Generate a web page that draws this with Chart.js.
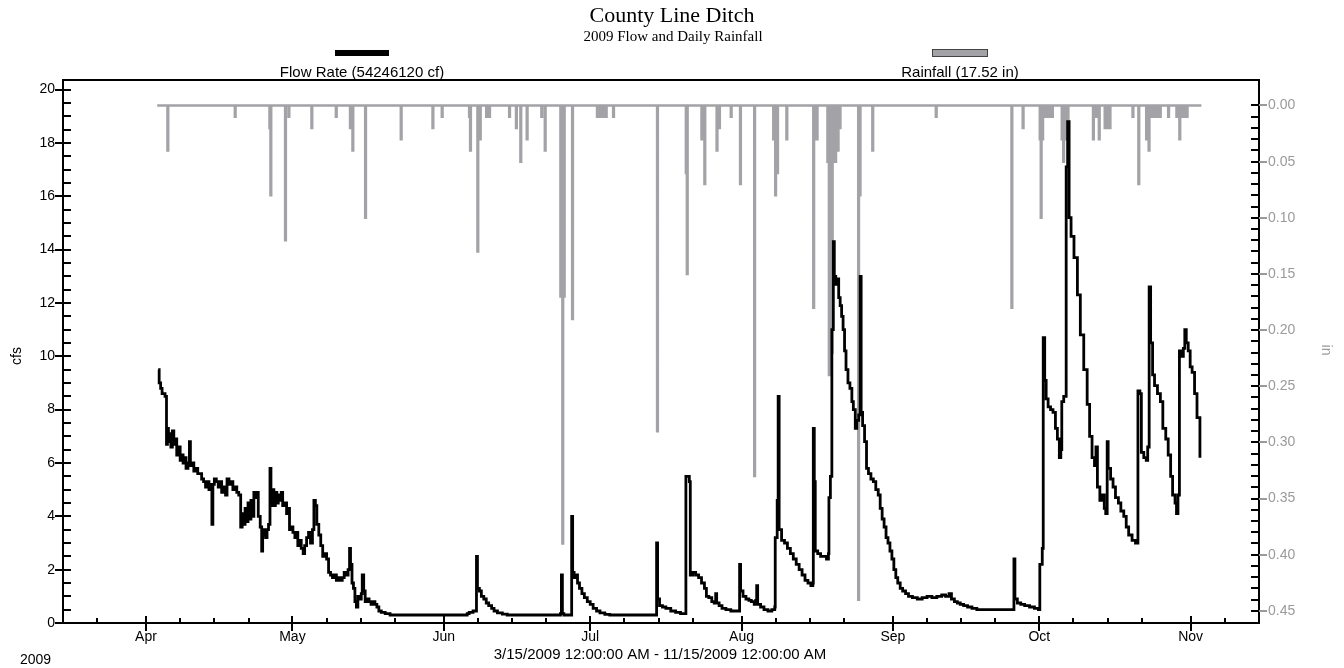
<!DOCTYPE html>
<html>
<head>
<meta charset="utf-8">
<title>County Line Ditch</title>
<script src="https://cdn.jsdelivr.net/npm/chart.js@4.4.1/dist/chart.umd.min.js"></script>
<style>
  html, body { margin: 0; padding: 0; background: #fff; }
  #wrap { width: 1344px; height: 668px; }
</style>
</head>
<body>
<div id="wrap"><canvas id="chart" width="1344" height="668"></canvas></div>
<script>
// all x values are days counted from 3/15/2009 12:00 AM
const monthLabels = ["Apr", "May", "Jun", "Jul", "Aug", "Sep", "Oct", "Nov"];
const monthDays = [17, 47, 78, 108, 139, 170, 200, 231];
const weekDays = [7, 24, 31, 38, 54, 61, 68, 85, 92, 99, 115, 122, 129, 146, 153, 160, 177, 184, 191, 207, 214, 221, 238];
const cfsTicks = [0, 2, 4, 6, 8, 10, 12, 14, 16, 18, 20];
const inTicks = [0, 0.05, 0.10, 0.15, 0.20, 0.25, 0.30, 0.35, 0.40, 0.45];

// flow rate (cfs), step series
const flowDay = [
  19.5, 19.7, 20.0, 20.3, 20.9, 21.2, 21.4, 21.6, 21.9, 22.1, 22.4, 22.7, 23.0, 23.3, 23.6, 24.0, 24.3, 24.6, 24.9, 25.2,
  25.6, 25.9, 26.1, 26.5, 26.8, 27.2, 27.6, 28.0, 28.4, 28.8, 29.2, 29.5, 29.9, 30.3, 30.5, 30.7, 31.0, 31.4, 31.8, 32.1,
  32.5, 32.9, 33.3, 33.6, 34.0, 34.4, 34.8, 35.2, 35.6, 36.0, 36.4, 36.7, 37.0, 37.3, 37.6, 37.9, 38.2, 38.5, 38.8, 39.1,
  39.4, 39.7, 40.0, 40.4, 40.7, 40.9, 41.2, 41.5, 41.8, 42.1, 42.4, 42.6, 42.9, 43.2, 43.5, 43.8, 44.1, 44.4, 44.7, 45.0,
  45.4, 45.8, 46.1, 46.4, 46.8, 47.1, 47.5, 47.8, 48.1, 48.5, 48.8, 49.2, 49.5, 49.9, 50.3, 50.7, 51.1, 51.4, 51.7, 52.0,
  52.4, 52.8, 53.2, 53.6, 54.0, 54.4, 54.8, 55.2, 55.6, 56.0, 56.4, 56.8, 57.2, 57.6, 58.0, 58.4, 58.7, 58.9, 59.2, 59.5,
  59.8, 60.1, 60.4, 60.8, 61.1, 61.3, 61.6, 61.9, 62.3, 62.7, 63.1, 63.5, 63.9, 64.3, 64.7, 65.2, 66.0, 67.0, 82.8, 83.2,
  84.0, 84.7, 84.9, 85.3, 85.7, 86.2, 86.7, 87.2, 87.8, 88.3, 89.0, 90.0, 91.0, 101.9, 102.1, 102.3, 102.6, 104.0, 104.2, 104.4,
  104.7, 105.0, 105.4, 105.8, 106.3, 106.8, 107.4, 108.0, 108.6, 109.3, 110.0, 111.0, 112.0, 121.5, 121.6, 121.8, 122.2, 122.8, 123.5, 124.5,
  125.5, 126.5, 127.5, 127.6, 128.3, 128.5, 129.0, 129.6, 130.2, 130.8, 131.4, 131.8, 132.3, 132.9, 133.4, 133.7, 133.9, 134.4, 135.0, 135.8,
  136.8, 137.8, 138.6, 138.8, 139.3, 139.9, 140.5, 141.0, 141.6, 141.9, 142.1, 142.3, 142.9, 143.6, 144.4, 145.2, 145.8, 145.9, 146.3, 146.5,
  146.7, 147.2, 147.8, 148.4, 149.0, 149.6, 150.2, 150.8, 151.4, 152.0, 152.6, 153.2, 153.6, 153.7, 153.9, 154.1, 154.6, 155.2, 155.8, 156.4,
  156.8, 156.9, 157.2, 157.5, 157.8, 158.0, 158.3, 158.6, 158.9, 159.2, 159.5, 159.8, 160.1, 160.4, 160.8, 161.2, 161.6, 161.9, 162.3, 162.6,
  163.0, 163.3, 163.5, 163.8, 164.2, 164.6, 165.0, 165.5, 166.0, 166.5, 167.0, 167.4, 167.8, 168.2, 168.6, 169.0, 169.4, 169.8, 170.2, 170.6,
  171.0, 171.5, 172.0, 172.6, 173.2, 174.0, 175.0, 176.0, 177.0, 178.0, 179.0, 180.0, 180.8, 181.5, 182.0, 182.6, 183.2, 183.8, 184.5, 185.3,
  186.2, 187.2, 194.6, 194.8, 195.0, 195.5, 196.2, 197.0, 198.0, 199.0, 199.8, 200.1, 200.6, 200.8, 201.1, 201.4, 201.8, 202.3, 202.8, 203.3,
  203.7, 204.1, 204.4, 204.6, 205.0, 205.5, 205.8, 206.1, 206.5, 207.1, 207.8, 208.4, 209.1, 209.8, 210.3, 210.8, 211.3, 211.6, 211.9, 212.4,
  212.9, 213.3, 213.6, 213.9, 214.1, 214.6, 215.1, 215.6, 216.2, 216.7, 217.3, 217.8, 218.3, 219.0, 219.7, 220.2, 220.6, 220.9, 221.4, 221.9,
  222.2, 222.5, 222.8, 223.2, 223.6, 224.2, 224.8, 225.3, 225.9, 226.4, 226.9, 227.3, 227.8, 228.1, 228.4, 228.7, 229.1, 229.5, 229.8, 230.1,
  230.5, 230.9, 231.3, 231.8, 232.3, 232.9
];
const flowCfs = [
  9.5, 9.0, 8.8, 8.6, 8.5, 6.7, 7.3, 6.8, 7.1, 6.6, 7.2, 6.7, 6.9, 6.3, 6.6, 6.1, 6.3, 6.0, 6.2, 5.8,
  6.0, 6.8, 5.9, 6.0, 5.7, 5.8, 5.6, 5.6, 5.4, 5.3, 5.1, 5.3, 5.0, 5.2, 3.7, 5.2, 5.4, 5.3, 5.1, 5.3,
  4.9, 5.1, 4.8, 5.4, 5.2, 5.3, 5.0, 5.1, 4.9, 4.8, 3.6, 4.1, 3.7, 4.3, 3.8, 4.5, 3.9, 4.6, 4.0, 4.9,
  4.7, 4.9, 4.0, 3.6, 2.7, 3.3, 3.5, 3.2, 3.5, 3.7, 5.8, 4.4, 5.0, 4.4, 4.9, 4.5, 4.8, 4.6, 4.9, 4.4,
  4.5, 4.1, 4.3, 3.5, 3.6, 3.4, 3.2, 3.4, 2.9, 3.1, 2.8, 2.6, 2.9, 3.2, 3.4, 3.0, 3.5, 4.6, 4.4, 3.7,
  3.3, 2.9, 2.5, 2.6, 2.4, 1.9, 1.8, 1.7, 1.8, 1.6, 1.7, 1.6, 1.7, 1.9, 1.8, 2.0, 2.8, 2.2, 1.5, 1.3,
  0.8, 0.6, 1.0, 0.9, 1.1, 1.8, 1.2, 0.8, 0.9, 0.8, 0.7, 0.8, 0.7, 0.6, 0.45, 0.4, 0.35, 0.3, 0.35, 0.4,
  0.45, 2.5, 1.3, 1.2, 1.0, 0.9, 0.75, 0.65, 0.55, 0.45, 0.38, 0.33, 0.3, 0.35, 1.8, 0.35, 0.3, 0.3, 4.0, 1.9,
  1.7, 1.8, 1.5, 1.3, 1.1, 0.95, 0.8, 0.7, 0.55, 0.45, 0.38, 0.32, 0.3, 0.3, 3.0, 0.9, 0.65, 0.6, 0.55, 0.45,
  0.4, 0.35, 0.35, 5.5, 5.3, 1.8, 1.9, 1.8, 1.7, 1.5, 1.3, 1.0, 0.95, 0.8, 0.75, 1.1, 0.75, 0.65, 0.55, 0.5,
  0.45, 0.45, 2.2, 1.2, 1.0, 0.9, 0.85, 0.8, 0.7, 0.85, 1.4, 0.7, 0.6, 0.5, 0.45, 0.5, 0.6, 3.2, 4.6, 8.5,
  3.5, 3.1, 3.0, 2.8, 2.6, 2.4, 2.2, 2.0, 1.8, 1.6, 1.5, 1.4, 1.5, 7.3, 5.3, 2.7, 2.6, 2.5, 2.5, 2.4,
  2.6, 4.7, 5.5, 11.0, 14.3, 13.0, 12.7, 12.9, 12.2, 11.9, 11.5, 11.0, 10.2, 9.5, 9.0, 8.8, 8.3, 8.0, 7.3, 7.6,
  7.8, 13.0, 7.9, 7.4, 6.8, 5.8, 5.6, 5.4, 5.3, 5.0, 4.8, 4.3, 3.9, 3.6, 3.2, 3.0, 2.7, 2.4, 2.0, 1.7,
  1.5, 1.3, 1.2, 1.1, 1.0, 0.95, 0.9, 0.95, 1.0, 0.95, 1.0, 1.05, 1.0, 1.1, 0.9, 0.8, 0.75, 0.7, 0.65, 0.6,
  0.55, 0.5, 0.5, 2.4, 0.9, 0.75, 0.7, 0.65, 0.6, 0.55, 0.5, 2.2, 2.8, 10.7, 9.1, 8.4, 8.1, 8.0, 7.9, 7.3,
  6.9, 6.2, 6.5, 8.3, 8.5, 17.1, 18.8, 15.2, 14.5, 13.7, 12.3, 10.8, 9.5, 8.2, 7.0, 6.2, 5.9, 6.6, 5.1, 4.6,
  4.8, 4.3, 4.1, 6.8, 5.8, 5.4, 5.1, 4.7, 4.5, 4.2, 4.0, 3.6, 3.3, 3.1, 3.0, 8.7, 8.6, 6.4, 6.2, 6.1,
  6.6, 12.6, 10.5, 9.3, 8.9, 8.6, 8.3, 7.3, 6.9, 6.3, 5.5, 4.8, 4.5, 4.1, 4.8, 10.2, 10.0, 10.3, 11.0, 10.5,
  10.2, 9.6, 9.4, 8.6, 7.7, 6.2
];

// rainfall (in), one spike per reading
const rainStart = 19.3;
const rainEnd = 233.2;
const rainDay = [
  21.4, 35.2, 42.3, 42.5, 45.5, 46.2, 50.9, 55.9, 58.8, 59.3, 61.9, 69.2, 75.7, 77.6, 83.2, 83.4, 84.9, 85.4, 86.7, 87.3,
  91.4, 92.8, 93.7, 95.0, 98.0, 98.7, 101.9, 102.3, 102.6, 104.3, 109.4, 110.0, 110.6, 111.2, 112.7, 121.7, 127.6, 127.8, 130.8, 131.4,
  133.9, 134.4, 136.8, 138.7, 141.6, 145.5, 145.9, 146.3, 148.2, 153.7, 154.1, 154.4, 156.6, 156.9, 157.2, 157.5, 157.8, 158.2, 158.7, 159.1,
  162.9, 163.2, 165.8, 178.8, 194.3, 196.6, 200.1, 200.3, 200.6, 201.0, 201.5, 202.0, 202.6, 204.6, 204.9, 205.3, 205.8, 211.0, 211.6, 212.2,
  213.4, 213.9, 214.4, 219.1, 220.3, 221.9, 222.4, 222.9, 223.5, 224.1, 224.7, 226.4, 228.1, 228.7, 229.3, 229.8, 230.2
];
const rainIn = [
  0.04, 0.01, 0.02, 0.08, 0.12, 0.01, 0.02, 0.01, 0.02, 0.04, 0.10, 0.03, 0.02, 0.01, 0.01, 0.04, 0.13, 0.03, 0.01, 0.01,
  0.01, 0.02, 0.05, 0.03, 0.01, 0.04, 0.17, 0.39, 0.17, 0.19, 0.01, 0.01, 0.01, 0.01, 0.01, 0.29, 0.06, 0.15, 0.03, 0.07,
  0.04, 0.02, 0.01, 0.07, 0.33, 0.03, 0.08, 0.06, 0.03, 0.18, 0.03, 0.03, 0.05, 0.24, 0.23, 0.22, 0.05, 0.05, 0.04, 0.02,
  0.44, 0.08, 0.04, 0.01, 0.18, 0.02, 0.03, 0.10, 0.03, 0.01, 0.01, 0.01, 0.01, 0.03, 0.05, 0.03, 0.03, 0.03, 0.01, 0.03,
  0.02, 0.02, 0.02, 0.01, 0.07, 0.03, 0.04, 0.01, 0.01, 0.01, 0.01, 0.01, 0.01, 0.03, 0.01, 0.01, 0.01
];

const flowPts = flowDay.map((d, i) => ({ x: d, y: flowCfs[i] }));

// each reading drops down from the 0.00 line and comes back up
const rainPts = [{ x: rainStart, y: 0 }];
rainDay.forEach((d, i) => {
  rainPts.push({ x: d, y: rainIn[i] });
  rainPts.push({ x: d + 0.15, y: 0 });
});
rainPts.push({ x: rainEnd, y: 0 });

const SANS = "'Liberation Sans', Arial, sans-serif";
const SERIF = "'Liberation Serif', 'Times New Roman', serif";
const GRAY = "#a3a3a7";
const LABEL_GRAY = "#9a9a9a";

// frame, tick marks, titles and legend
const decor = {
  id: "decor",
  afterDraw(chart) {
    const { ctx, chartArea: a, scales } = chart;
    const x = scales.x, y = scales.y, y2 = scales.y2;
    ctx.save();

    ctx.strokeStyle = "#000";
    ctx.lineWidth = 2;
    ctx.strokeRect(a.left, a.top, a.right - a.left, a.bottom - a.top);

    ctx.beginPath();
    // left axis
    for (let v = 0; v <= 20.001; v += 0.5) {
      const py = Math.round(y.getPixelForValue(v));
      const major = Math.abs(v / 2 - Math.round(v / 2)) < 1e-6;
      ctx.moveTo(a.left - (major ? 8 : 0), py);
      ctx.lineTo(a.left + 8, py);
    }
    // right axis, inner part
    for (let k = 0; k <= 45; k++) {
      const py = Math.round(y2.getPixelForValue(k / 100));
      ctx.moveTo(a.right - 8, py);
      ctx.lineTo(a.right, py);
    }
    // bottom axis
    monthDays.forEach(d => {
      const px = Math.round(x.getPixelForValue(d));
      ctx.moveTo(px, a.bottom - 7);
      ctx.lineTo(px, a.bottom + 8);
    });
    weekDays.forEach(d => {
      const px = Math.round(x.getPixelForValue(d));
      ctx.moveTo(px, a.bottom - 5);
      ctx.lineTo(px, a.bottom);
    });
    ctx.stroke();

    ctx.beginPath();
    ctx.strokeStyle = LABEL_GRAY;
    inTicks.forEach(v => {
      const py = Math.round(y2.getPixelForValue(v));
      ctx.moveTo(a.right, py);
      ctx.lineTo(a.right + 8, py);
    });
    ctx.stroke();

    // titles
    ctx.fillStyle = "#000";
    ctx.textAlign = "center";
    ctx.textBaseline = "middle";
    ctx.font = "22px " + SERIF;
    ctx.fillText("County Line Ditch", 672, 16);
    ctx.font = "15px " + SERIF;
    ctx.fillText("2009 Flow and Daily Rainfall", 673, 37);

    // legend
    const w = a.right - a.left;
    const lx1 = a.left + w / 4, lx2 = a.left + w * 3 / 4;
    ctx.fillStyle = "#000";
    ctx.fillRect(lx1 - 27, 50, 54, 6);
    ctx.fillStyle = GRAY;
    ctx.fillRect(lx2 - 27, 50, 54, 6);
    ctx.strokeStyle = "#444";
    ctx.lineWidth = 1;
    ctx.strokeRect(lx2 - 27.5, 49.5, 55, 7);
    ctx.fillStyle = "#000";
    ctx.font = "15px " + SANS;
    ctx.fillText("Flow Rate (54246120 cf)", lx1, 73);
    ctx.fillText("Rainfall (17.52 in)", lx2, 73);

    // bottom texts
    ctx.fillText("3/15/2009 12:00:00 AM - 11/15/2009 12:00:00 AM", 660, 655);
    ctx.font = "14px " + SANS;
    ctx.textAlign = "left";
    ctx.fillText("2009", 20, 660);

    // axis titles
    ctx.save();
    ctx.translate(17, 356);
    ctx.rotate(-Math.PI / 2);
    ctx.textAlign = "center";
    ctx.fillText("cfs", 0, 0);
    ctx.restore();

    ctx.save();
    ctx.translate(1326, 350);
    ctx.rotate(Math.PI / 2);
    ctx.textAlign = "center";
    ctx.fillStyle = LABEL_GRAY;
    ctx.fillText("in", 0, 0);
    ctx.restore();

    ctx.restore();
  }
};

new Chart(document.getElementById("chart"), {
  type: "line",
  data: {
    datasets: [
      {
        label: "Flow Rate (54246120 cf)",
        data: flowPts,
        yAxisID: "y",
        borderColor: "#000",
        borderWidth: 2.8,
        stepped: true,
        pointRadius: 0,
        fill: false
      },
      {
        label: "Rainfall (17.52 in)",
        data: rainPts,
        yAxisID: "y2",
        borderColor: GRAY,
        borderWidth: 2.5,
        stepped: true,
        pointRadius: 0,
        fill: false
      }
    ]
  },
  options: {
    responsive: false,
    animation: false,
    devicePixelRatio: 1,
    layout: { padding: { top: 80, left: 0, right: 0, bottom: 0 } },
    plugins: {
      legend: { display: false },
      tooltip: { enabled: false },
      title: { display: false }
    },
    scales: {
      x: {
        type: "linear",
        position: "bottom",
        min: 0,
        max: 245,
        afterBuildTicks: s => { s.ticks = monthDays.map(v => ({ value: v })); },
        afterFit: s => { s.height = 45; },
        grid: { display: false, drawTicks: false },
        border: { display: false },
        ticks: {
          autoSkip: false,
          maxRotation: 0,
          padding: 6,
          color: "#000",
          font: { family: SANS, size: 14 },
          callback: v => monthLabels[monthDays.indexOf(v)]
        }
      },
      y: {
        type: "linear",
        position: "left",
        min: 0,
        max: 20.36,
        afterBuildTicks: s => { s.ticks = cfsTicks.map(v => ({ value: v })); },
        afterFit: s => { s.width = 63; },
        grid: { display: false, drawTicks: false },
        border: { display: false },
        ticks: { padding: 8, color: "#000", font: { family: SANS, size: 14 } }
      },
      y2: {
        type: "linear",
        position: "right",
        reverse: true,
        min: -0.0227,
        max: 0.4608,
        afterBuildTicks: s => { s.ticks = inTicks.map(v => ({ value: v })); },
        afterFit: s => { s.width = 85; },
        grid: { display: false, drawTicks: false },
        border: { display: false },
        ticks: {
          padding: 9,
          color: LABEL_GRAY,
          font: { family: SANS, size: 14 },
          callback: v => v.toFixed(2)
        }
      }
    }
  },
  plugins: [decor]
});
</script>
</body>
</html>
